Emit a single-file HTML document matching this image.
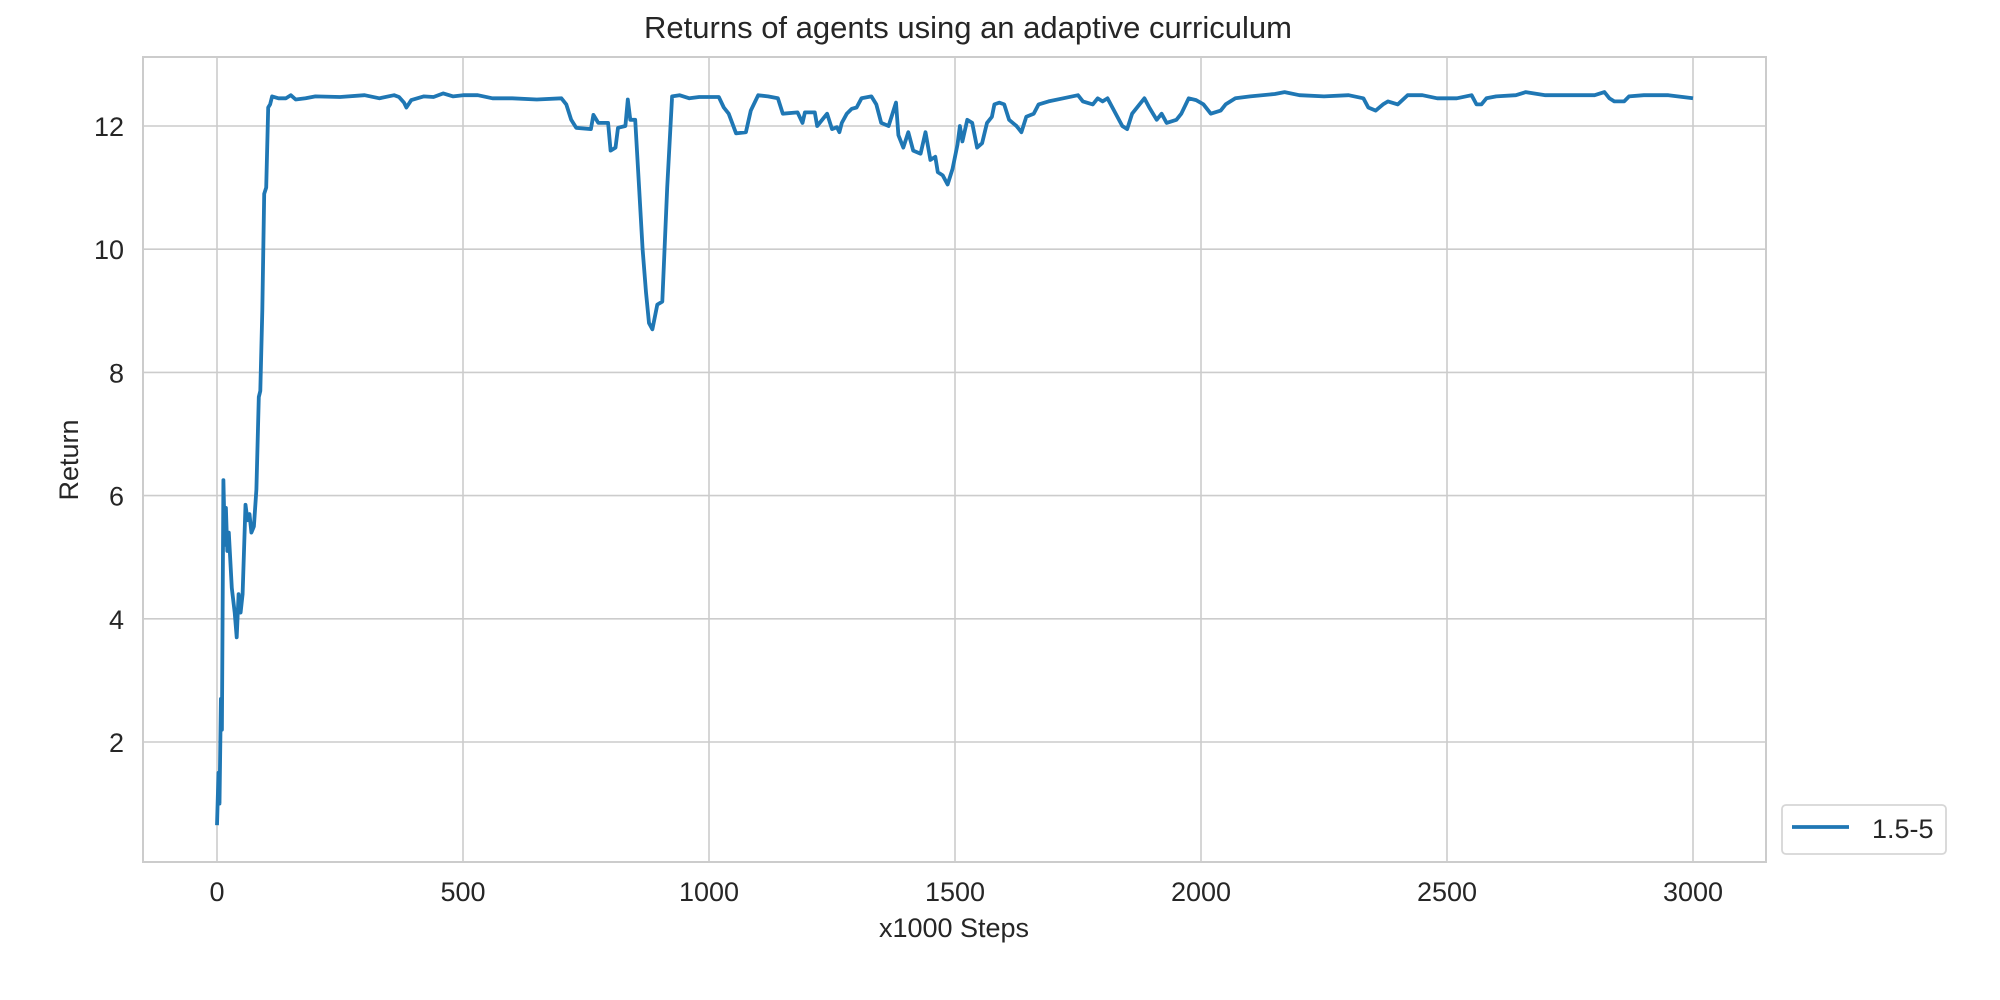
<!DOCTYPE html>
<html><head><meta charset="utf-8"><style>
body{margin:0;background:#fff;}
svg{display:block;font-family:"Liberation Sans",sans-serif;}
</style></head><body>
<svg id="chart" width="2000" height="1000" viewBox="0 0 2000 1000" xmlns="http://www.w3.org/2000/svg">
<rect width="2000" height="1000" fill="#fff"/>
<g id="grid"></g>
<g id="ticks"></g>
<rect x="143" y="57" width="1623" height="805" fill="none" stroke="#cccccc" stroke-width="2"/>
<g id="series"></g>
<text x="968" y="38" text-anchor="middle" font-size="31" fill="#262626">Returns of agents using an adaptive curriculum</text>
<text x="954" y="937" text-anchor="middle" font-size="27" fill="#262626">x1000 Steps</text>
<text x="0" y="0" transform="translate(78,460) rotate(-90)" text-anchor="middle" font-size="27" fill="#262626">Return</text>
<g>
<rect x="1782" y="805" width="164" height="49" rx="4" fill="#fff" stroke="#d6d6d6" stroke-width="1.8"/>
<line x1="1792" y1="827" x2="1849" y2="827" stroke="#1f77b4" stroke-width="3.8"/>
<text x="1872" y="838" font-size="27" fill="#262626">1.5-5</text>
</g>
</svg>
<script>
const xs = [0,3,5,8,10,13,16,18,21,24,30,36,40,44,48,52,58,62,66,70,75,80,85,88,92,96,100,104,108,112,125,140,150,160,180,200,250,300,330,360,370,380,385,395,420,440,460,480,500,530,560,600,650,700,710,720,730,760,765,775,795,800,810,815,830,835,840,850,858,865,872,878,885,895,905,915,925,940,960,980,1000,1020,1030,1040,1055,1075,1085,1100,1120,1140,1150,1180,1190,1195,1215,1220,1240,1250,1260,1265,1270,1280,1290,1300,1310,1330,1340,1350,1365,1380,1385,1395,1405,1415,1430,1440,1450,1460,1465,1475,1485,1495,1505,1510,1515,1525,1535,1545,1555,1565,1575,1580,1590,1600,1610,1625,1635,1645,1660,1670,1690,1720,1750,1760,1780,1790,1800,1810,1820,1840,1850,1860,1875,1885,1895,1910,1920,1930,1950,1960,1975,1990,2005,2020,2040,2050,2070,2100,2150,2170,2200,2250,2300,2330,2340,2355,2370,2380,2400,2420,2450,2480,2520,2550,2560,2570,2580,2600,2640,2660,2700,2750,2800,2820,2830,2840,2860,2870,2900,2950,3000];
const ys = [0.65,1.5,1.0,2.7,2.2,6.25,5.2,5.8,5.1,5.4,4.5,4.1,3.7,4.4,4.1,4.4,5.85,5.6,5.7,5.4,5.5,6.1,7.6,7.7,9.0,10.9,11.0,12.3,12.35,12.48,12.45,12.45,12.5,12.43,12.45,12.48,12.47,12.5,12.45,12.5,12.47,12.38,12.3,12.42,12.48,12.47,12.53,12.48,12.5,12.5,12.45,12.45,12.43,12.45,12.35,12.1,11.97,11.95,12.18,12.05,12.05,11.6,11.65,11.97,12.0,12.43,12.1,12.1,11.0,10.0,9.3,8.8,8.7,9.1,9.15,11.0,12.48,12.5,12.45,12.47,12.47,12.47,12.3,12.2,11.88,11.9,12.25,12.5,12.48,12.45,12.2,12.22,12.05,12.22,12.22,12.0,12.2,11.95,11.98,11.9,12.05,12.2,12.28,12.3,12.45,12.48,12.35,12.05,12.0,12.38,11.85,11.65,11.9,11.6,11.55,11.9,11.45,11.5,11.25,11.2,11.05,11.3,11.7,12.0,11.75,12.1,12.05,11.65,11.72,12.05,12.15,12.35,12.38,12.35,12.1,12.0,11.9,12.15,12.2,12.35,12.4,12.45,12.5,12.4,12.35,12.45,12.4,12.45,12.3,12.0,11.95,12.2,12.35,12.45,12.3,12.1,12.2,12.05,12.1,12.2,12.45,12.42,12.35,12.2,12.25,12.35,12.45,12.48,12.52,12.55,12.5,12.48,12.5,12.45,12.3,12.25,12.35,12.4,12.35,12.5,12.5,12.45,12.45,12.5,12.35,12.35,12.45,12.48,12.5,12.55,12.5,12.5,12.5,12.55,12.45,12.4,12.4,12.48,12.5,12.5,12.45];
const xTicks = [0,500,1000,1500,2000,2500,3000];
const yTicks = [2,4,6,8,10,12];

const NS = "http://www.w3.org/2000/svg";
function xScale(v){ return 217 + v * (1693 - 217) / 3000; }
function yScale(v){ return 126 + (12 - v) * (742 - 126) / 10; }
const grid = document.getElementById('grid');
const ticks = document.getElementById('ticks');
xTicks.forEach(t => {
  const l = document.createElementNS(NS,'line');
  
  
  l.setAttribute('x1',xScale(t)); l.setAttribute('x2',xScale(t));
  l.setAttribute('y1',57); l.setAttribute('y2',862);
  l.setAttribute('stroke','#cccccc'); l.setAttribute('stroke-width','1.6');
  grid.appendChild(l);
  const tx = document.createElementNS(NS,'text');
  
  
  tx.setAttribute('x',xScale(t)); tx.setAttribute('y',901);
  tx.setAttribute('text-anchor','middle'); tx.setAttribute('font-size','27'); tx.setAttribute('fill','#262626');
  tx.textContent = t;
  ticks.appendChild(tx);
});
yTicks.forEach(t => {
  const l = document.createElementNS(NS,'line');
  
  
  l.setAttribute('x1',143); l.setAttribute('x2',1766);
  l.setAttribute('y1',yScale(t)); l.setAttribute('y2',yScale(t));
  l.setAttribute('stroke','#cccccc'); l.setAttribute('stroke-width','1.6');
  grid.appendChild(l);
  const tx = document.createElementNS(NS,'text');
  
  
  tx.setAttribute('x',124); tx.setAttribute('y',yScale(t)+10);
  tx.setAttribute('text-anchor','end'); tx.setAttribute('font-size','27'); tx.setAttribute('fill','#262626');
  tx.textContent = t;
  ticks.appendChild(tx);
});
const p = document.createElementNS(NS,'polyline');


p.setAttribute('points', xs.map((x,i)=>xScale(x).toFixed(1)+','+yScale(ys[i]).toFixed(1)).join(' '));
p.setAttribute('fill','none'); p.setAttribute('stroke','#1f77b4');
p.setAttribute('stroke-width','3.8'); p.setAttribute('stroke-linejoin','round');
document.getElementById('series').appendChild(p);
</script>
</body></html>
